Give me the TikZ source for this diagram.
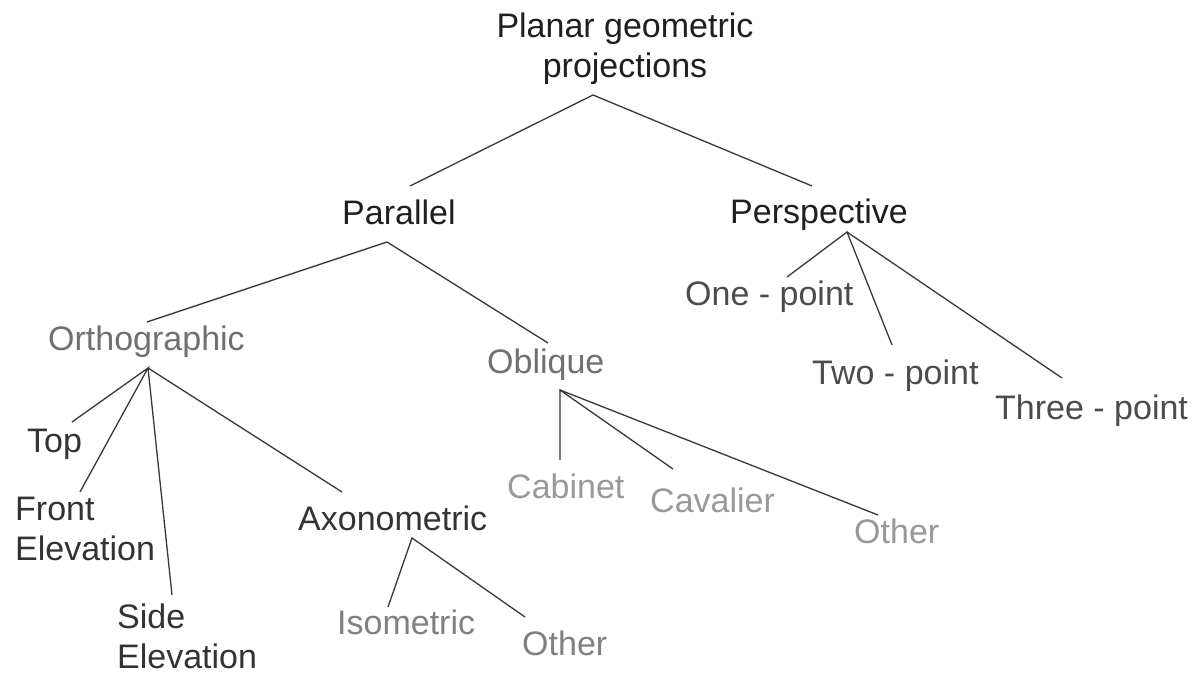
\documentclass[tikz,border=0pt]{standalone}
\usepackage{fontspec}
\setmainfont{Liberation Sans}
\begin{document}
\begin{tikzpicture}[x=1pt,y=-1pt,
  lbl/.style={inner sep=0pt,font=\fontsize{34}{40}\selectfont},
  c1/.style={text=black!88},
  c2/.style={text=black!80},
  c3/.style={text=black!70},
  c4/.style={text=black!56},
  c5/.style={text=black!50},
  c6/.style={text=black!40},
  link/.style={draw=black!78,line width=1.3pt}]
\useasboundingbox[fill=white] (0,0) rectangle (1196,679);
% labels (multi-line nodes: base = last line)
\node[lbl,c1,anchor=base,align=center] (root) at (625,78) {Planar geometric\\projections};
\node[lbl,c1,anchor=base west] (par) at (342,224) {Parallel};
\node[lbl,c1,anchor=base west] (persp) at (730,223) {Perspective};
\node[lbl,c4,anchor=base west] (ortho) at (48,350) {Orthographic};
\node[lbl,c4,anchor=base west] (obl) at (487,373) {Oblique};
\node[lbl,c3,anchor=base west] (one) at (685,305) {One - point};
\node[lbl,c3,anchor=base west] (two) at (812,384) {Two - point};
\node[lbl,c3,anchor=base west] (three) at (995,419) {Three - point};
\node[lbl,c2,anchor=base west] (top) at (27,452) {Top};
\node[lbl,c2,anchor=base west,align=left] (front) at (15,560) {Front\\Elevation};
\node[lbl,c2,anchor=base west,align=left] (side) at (117,668) {Side\\Elevation};
\node[lbl,c2,anchor=base west] (axo) at (298,530) {Axonometric};
\node[lbl,c5,anchor=base west] (iso) at (337,634) {Isometric};
\node[lbl,c5,anchor=base west] (other1) at (522,655) {Other};
\node[lbl,c6,anchor=base west] (cab) at (507,498) {Cabinet};
\node[lbl,c6,anchor=base west] (cav) at (650,512) {Cavalier};
\node[lbl,c6,anchor=base west] (other2) at (854,543) {Other};
% connector points
\coordinate (rootA) at (593,95);
\coordinate (parT) at (410,186);
\coordinate (perspT) at (812,186);
\coordinate (parA) at (387,242);
\coordinate (orthoT) at (147,322);
\coordinate (oblT) at (548,343);
\coordinate (perspA) at (847,232);
\coordinate (oneT) at (787,277);
\coordinate (twoT) at (892,345);
\coordinate (threeT) at (1062,378);
\coordinate (orthoA) at (148,368);
\coordinate (topT) at (72,422);
\coordinate (frontT) at (80,492);
\coordinate (sideT) at (172,595);
\coordinate (axoT) at (342,492);
\coordinate (axoA) at (412,538);
\coordinate (isoT) at (388,607);
\coordinate (other1T) at (525,617);
\coordinate (oblA) at (560,390);
\coordinate (cabT) at (560,460);
\coordinate (cavT) at (673,469);
\coordinate (other2T) at (878,515);
% connectors
\draw[link] (parT) -- (rootA) -- (perspT);
\draw[link] (orthoT) -- (parA) -- (oblT);
\draw[link] (oneT) -- (perspA) -- (twoT);
\draw[link] (perspA) -- (threeT);
\draw[link] (topT) -- (orthoA) -- (frontT);
\draw[link] (orthoA) -- (sideT);
\draw[link] (orthoA) -- (axoT);
\draw[link] (isoT) -- (axoA) -- (other1T);
\draw[link] (cabT) -- (oblA) -- (cavT);
\draw[link] (oblA) -- (other2T);
\end{tikzpicture}
\end{document}
